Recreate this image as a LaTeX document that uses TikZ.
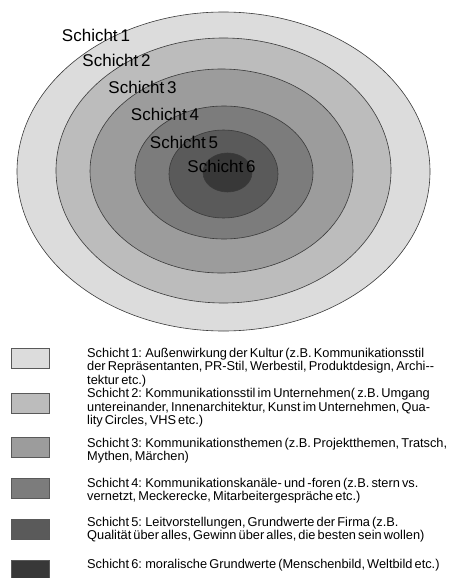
\documentclass[tikz,border=0pt]{standalone}
\usepackage{fontspec}
\setmainfont{Liberation Sans}
\newfontfamily\lblfont[WordSpace=0.5]{Liberation Sans}
\newfontfamily\legfont[WordSpace=0.6]{Liberation Sans}
\definecolor{cA}{HTML}{DCDCDC}
\definecolor{cB}{HTML}{BCBCBC}
\definecolor{cC}{HTML}{9C9C9C}
\definecolor{cD}{HTML}{7C7C7C}
\definecolor{cE}{HTML}{5A5A5A}
\definecolor{cF}{HTML}{383838}
\definecolor{edge}{HTML}{3A3A3A}
\tikzset{
  ring/.style={draw=edge, line width=0.6pt},
  lbl/.style={font=\lblfont\fontsize{17}{18}\selectfont, inner sep=0pt, text=black},
  keybox/.style={draw=black!65, line width=0.8pt, minimum width=38pt, inner sep=0pt},
  legtext/.style={font=\legfont\fontsize{12.8}{13.5}\selectfont, align=left, anchor=base west, inner sep=0pt}
}
\begin{document}
\begin{tikzpicture}[x=1pt,y=-1pt]
\useasboundingbox (0,0) rectangle (448,578);
% rings
\fill[cA, ring] (223.5,171.5) ellipse [x radius=206.5pt, y radius=159.5pt];
\fill[cB, ring] (223.5,170.5) ellipse [x radius=167.5pt, y radius=132.5pt];
\fill[cC, ring] (221.5,171) ellipse [x radius=131.5pt, y radius=102pt];
\fill[cD, ring] (224,172.5) ellipse [x radius=89pt, y radius=66.5pt];
\fill[cE, ring] (223.5,174) ellipse [x radius=54.5pt, y radius=44pt];
\fill[cF, ring] (227.5,172.5) ellipse [x radius=24.5pt, y radius=19.5pt];
% ring labels
\node[lbl] (l1) at (96,35) {Schicht 1};
\node[lbl] (l2) at (116.5,60) {Schicht 2};
\node[lbl] (l3) at (142.5,87) {Schicht 3};
\node[lbl] (l4) at (165,114) {Schicht 4};
\node[lbl] (l5) at (184,142) {Schicht 5};
\node[lbl] (l6) at (221.5,166) {Schicht 6};
% legend boxes
\node[keybox, fill=cA, minimum height=20pt] (k1) at (30.5,358.5) {};
\node[keybox, fill=cB, minimum height=20pt] (k2) at (30.5,403) {};
\node[keybox, fill=cC, minimum height=20pt] (k3) at (30.5,447) {};
\node[keybox, fill=cD, minimum height=20pt] (k4) at (30.5,488) {};
\node[keybox, fill=cE, minimum height=20pt] (k5) at (30.5,529) {};
\node[keybox, fill=cF, minimum height=20pt] (k6) at (30.5,570) {};
% legend texts (anchored at the baseline of their last line)
\node[legtext] (t1) at (87,384) {Schicht 1: Außenwirkung der Kultur (z.B. Kommunikationsstil\\der Repräsentanten, PR-Stil, Werbestil, Produktdesign, Archi--\\tektur etc.)};
\node[legtext] (t2) at (87,424.5) {Schicht 2: Kommunikationsstil im Unternehmen( z.B. Umgang\\untereinander, Innenarchitektur, Kunst im Unternehmen, Qua-\\lity Circles, VHS etc.)};
\node[legtext] (t3) at (87,460.5) {Schicht 3: Kommunikationsthemen (z.B. Projektthemen, Tratsch,\\Mythen, Märchen)};
\node[legtext] (t4) at (87,500.5) {Schicht 4: Kommunikationskanäle- und -foren (z.B. stern vs.\\vernetzt, Meckerecke, Mitarbeitergespräche etc.)};
\node[legtext] (t5) at (87,539.5) {Schicht 5: Leitvorstellungen, Grundwerte der Firma (z.B.\\Qualität über alles, Gewinn über alles, die besten sein wollen)};
\node[legtext] (t6) at (87,568) {Schicht 6: moralische Grundwerte (Menschenbild, Weltbild etc.)};
\end{tikzpicture}
\end{document}
